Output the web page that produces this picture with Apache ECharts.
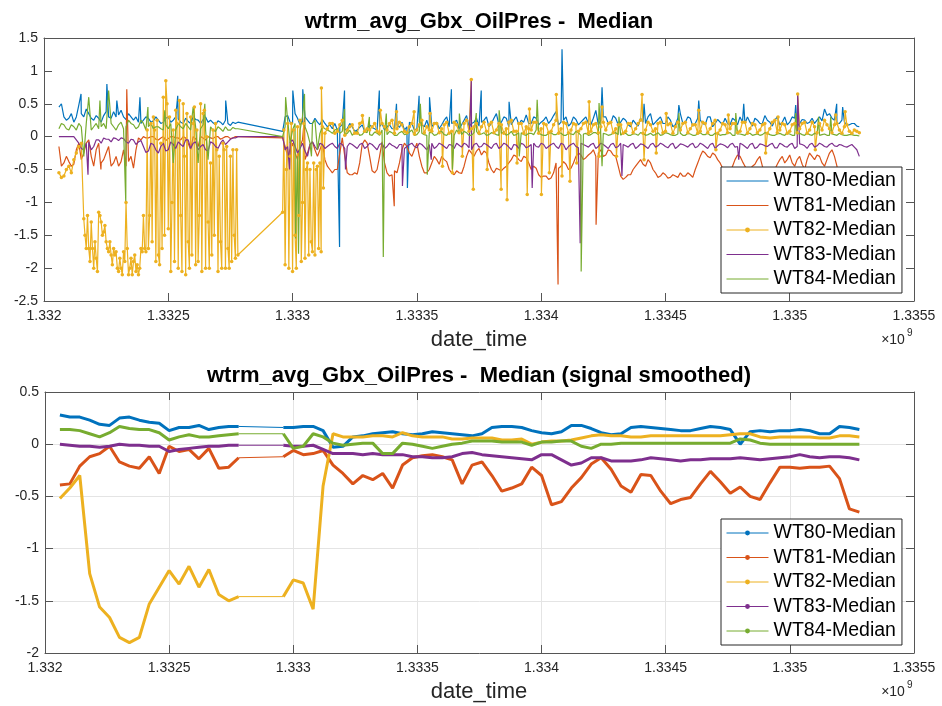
<!DOCTYPE html>
<html><head><meta charset="utf-8">
<script src="https://cdn.jsdelivr.net/npm/echarts/dist/echarts.min.js"></script>
<style>html,body{margin:0;padding:0;background:#fff}#c{width:942px;height:706px}</style>
</head><body><div id="c"></div><script>
const names = ['WT80-Median','WT81-Median','WT82-Median','WT83-Median','WT84-Median'];
const colors = ['#0072BD','#D95319','#EDB120','#7E2F8E','#77AC30'];
const titleTop = 'wtrm_avg_Gbx_OilPres -  Median';
const titleBottom = 'wtrm_avg_Gbx_OilPres -  Median (signal smoothed)';
const xLabel = 'date_time';

// ---- top panel (raw) ----
const rawTimeA = [1.33206,1.33208,1.3321,1.33212,1.33214,1.33216,1.33218,1.3322,1.33222,1.33224,
1.33226,1.33228,1.3323,1.33232,1.33234,1.33236,1.33238,1.3324,1.33242,1.33244,
1.33246,1.33248,1.3325,1.33252,1.33254,1.33256,1.33258,1.3326,1.33262,1.33264,
1.33266,1.33268,1.3327,1.33272,1.33274,1.33276,1.33278];
const rawTimeB = [1.33296,1.33298,1.333,1.33302,1.33304,1.33306,1.33308,1.3331,1.33312,1.33314,
1.33316,1.33318,1.3332,1.33322,1.33324,1.33326,1.33328,1.3333,1.33332,1.33334,
1.33336,1.33338,1.3334,1.33342,1.33344,1.33346,1.33348,1.3335,1.33352,1.33354,
1.33356,1.33358,1.3336,1.33362,1.33364,1.33366,1.33368,1.3337,1.33372,1.33374,
1.33376,1.33378,1.3338,1.33382,1.33384,1.33386,1.33388,1.3339,1.33392,1.33394,
1.33396,1.33398,1.334,1.33402,1.33404,1.33406,1.33408,1.3341,1.33412,1.33414,
1.33416,1.33418,1.3342,1.33422,1.33424,1.33426,1.33428,1.3343,1.33432,1.33434,
1.33436,1.33438,1.3344,1.33442,1.33444,1.33446,1.33448,1.3345,1.33452,1.33454,
1.33456,1.33458,1.3346,1.33462,1.33464,1.33466,1.33468,1.3347,1.33472,1.33474,
1.33476,1.33478,1.3348,1.33482,1.33484,1.33486,1.33488,1.3349,1.33492,1.33494,
1.33496,1.33498,1.335,1.33502,1.33504,1.33506,1.33508,1.3351,1.33512,1.33514,
1.33516,1.33518,1.3352,1.33522,1.33524,1.33526,1.33528];
const rawMidTimeA = [1.33207,1.33209,1.33211,1.33213,1.33215,1.33217,1.33219,1.33221,1.33223,1.33225,
1.33227,1.33229,1.33231,1.33233,1.33235,1.33237,1.33239,1.33241,1.33243,1.33245,
1.33247,1.33249,1.33251,1.33253,1.33255,1.33257,1.33259,1.33261,1.33263,1.33265,
1.33267,1.33269,1.33271,1.33273,1.33275,1.33277];
const rawMidTimeB = [1.33297,1.33299,1.33301,1.33303,1.33305,1.33307,1.33309,1.33311,1.33313,1.33315,
1.33317,1.33319,1.33321,1.33323,1.33325,1.33327,1.33329,1.33331,1.33333,1.33335,
1.33337,1.33339,1.33341,1.33343,1.33345,1.33347,1.33349,1.33351,1.33353,1.33355,
1.33357,1.33359,1.33361,1.33363,1.33365,1.33367,1.33369,1.33371,1.33373,1.33375,
1.33377,1.33379,1.33381,1.33383,1.33385,1.33387,1.33389,1.33391,1.33393,1.33395,
1.33397,1.33399,1.33401,1.33403,1.33405,1.33407,1.33409,1.33411,1.33413,1.33415,
1.33417,1.33419,1.33421,1.33423,1.33425,1.33427,1.33429,1.33431,1.33433,1.33435,
1.33437,1.33439,1.33441,1.33443,1.33445,1.33447,1.33449,1.33451,1.33453,1.33455,
1.33457,1.33459,1.33461,1.33463,1.33465,1.33467,1.33469,1.33471,1.33473,1.33475,
1.33477,1.33479,1.33481,1.33483,1.33485,1.33487,1.33489,1.33491,1.33493,1.33495,
1.33497,1.33499,1.33501,1.33503,1.33505,1.33507,1.33509,1.33511,1.33513,1.33515,
1.33517,1.33519,1.33521,1.33523,1.33525,1.33527];

const wt80RawA = [0.45,0.3,0.28,0.22,0.48,0.3,0.35,0.25,0.28,0.32,
0.3,0.38,0.33,0.3,0.35,0.25,0.22,0.25,0.28,0.24,
0.25,0.22,0.3,0.25,0.27,0.2,0.23,0.3,0.25,0.26,
0.22,0.21,0.24,0.18,0.2,0.22,0.22];
const wt80MidA = [0.5,0.25,0.35,0.3,0.35,0.42,0.28,0.32,0.22,0.38,
0.28,0.3,0.4,0.26,0.3,0.3,0.2,0.3,0.22,0.3,
0.2,0.28,0.22,0.3,0.22,0.28,0.2,0.26,0.2,0.3,
0.25,0.18,0.22,0.25,0.17,0.2];
const wt80RawB = [0.08,0.32,0.2,0.28,0.22,0.25,0.2,0.22,0.26,0.15,
0.12,0.1,0.18,0.12,0.15,0.1,0.18,0.12,0.14,0.1,
0.2,0.15,0.12,0.18,0.22,0.15,0.2,0.12,0.18,0.25,
0.15,0.22,0.18,0.3,0.2,0.25,0.18,0.32,0.2,0.28,
0.22,0.3,0.2,0.35,0.22,0.28,0.18,0.3,0.25,0.33,
0.2,0.28,0.22,0.3,0.25,0.38,0.22,0.3,0.2,0.26,
0.22,0.3,0.18,0.4,0.25,0.3,0.2,0.28,0.22,0.25,
0.15,0.2,0.28,0.2,0.35,0.22,0.3,0.2,0.25,0.18,
0.35,0.22,0.28,0.2,0.25,0.18,0.3,0.2,0.22,0.28,
0.18,0.25,0.3,0.2,0.22,0.28,0.2,0.32,0.22,0.25,
0.18,0.3,0.22,0.28,0.2,0.25,0.22,0.2,0.3,0.42,
0.35,0.25,0.2,0.22,0.18,0.2,0.15];
const wt80MidB = [0.3,0.22,0.35,0.18,0.3,0.2,0.28,0.18,0.2,0.18,
0.2,0.15,0.1,0.2,0.08,0.14,0.08,0.18,0.12,0.15,
0.1,0.18,0.12,0.14,0.1,0.22,0.1,0.22,0.15,0.12,
0.2,0.12,0.25,0.15,0.22,0.12,0.25,0.15,0.22,0.16,
0.25,0.15,0.28,0.18,0.3,0.15,0.25,0.18,0.22,0.2,
0.3,0.18,0.25,0.2,0.32,0.18,0.25,0.16,0.3,0.18,
0.26,0.2,0.28,0.18,0.3,0.2,0.32,0.18,0.28,0.18,
0.25,0.16,0.22,0.3,0.18,0.26,0.2,0.3,0.15,0.28,
0.2,0.3,0.16,0.28,0.2,0.3,0.15,0.26,0.18,0.2,
0.28,0.18,0.22,0.3,0.16,0.25,0.2,0.25,0.16,0.3,
0.22,0.18,0.3,0.16,0.26,0.2,0.28,0.25,0.24,0.32,
0.28,0.2,0.25,0.18,0.2,0.16];
const wt80SpikeT = [1.332149,1.332253,1.332293,1.332386,1.332538,1.332731,1.333001,1.333041,1.333189,1.333209,1.333349,1.333418,1.333462,1.333509,1.333551,1.333639,1.333759,1.333871,1.334084,1.334245,1.334414,1.334554,1.334634,1.334815,1.335024,1.335189,1.335213];
const wt80SpikeV = [0.65,0.8,0.55,0.6,0.62,0.55,0.7,0.72,-1.68,0.7,0.7,0.5,-0.78,0.62,0.6,0.72,0.7,0.53,1.33,0.75,0.5,0.48,0.55,0.5,0.48,0.5,0.45];

const wt81RawA = [-0.15,-0.4,-0.38,-0.42,-0.1,-0.25,-0.05,-0.45,-0.1,-0.35,
-0.15,-0.4,-0.45,-0.2,-0.38,-0.48,-0.02,0,-0.02,0,
-0.05,0,-0.03,0,-0.02,0,-0.1,0,-0.15,-0.02,
0,-0.03,0,-0.02,0,-0.02,0];
const wt81MidA = [-0.45,-0.3,-0.45,-0.2,-0.35,-0.1,-0.3,-0.2,-0.4,-0.25,
-0.45,-0.3,-0.38,-0.45,-0.3,-0.2,-0.05,-0.02,0,-0.04,
-0.02,-0.06,0,-0.02,-0.05,-0.02,-0.2,-0.03,0,-0.05,
-0.02,0,-0.04,0,-0.03,0];
const wt81RawB = [-0.02,-0.3,-0.1,-0.35,-0.05,-0.25,-0.08,-0.3,-0.1,-0.45,
-0.55,-0.5,-0.02,-0.55,-0.58,-0.57,-0.12,-0.1,-0.52,-0.5,
-0.08,-0.55,-0.58,-0.55,-0.2,-0.15,-0.3,-0.1,-0.45,-0.55,
-0.4,-0.35,-0.3,-0.38,-0.55,-0.52,-0.56,-0.3,-0.25,-0.22,
-0.28,-0.25,-0.5,-0.48,-0.52,-0.45,-0.35,-0.3,-0.38,-0.32,
-0.5,-0.48,-0.62,-0.6,-0.63,-0.4,-0.45,-0.42,-0.48,-0.3,
-0.28,-0.32,-0.25,-0.3,-0.2,-0.28,-0.22,-0.3,-0.6,-0.62,
-0.58,-0.45,-0.35,-0.45,-0.4,-0.55,-0.6,-0.58,-0.62,-0.6,
-0.55,-0.6,-0.58,-0.5,-0.3,-0.25,-0.32,-0.28,-0.4,-0.52,
-0.55,-0.35,-0.3,-0.45,-0.5,-0.42,-0.3,-0.55,-0.6,-0.5,
-0.35,-0.4,-0.28,-0.45,-0.3,-0.5,-0.25,-0.35,-0.3,-0.45,
-0.25,-0.3,-0.55,-0.6,-0.62,-0.65,-0.65];
const wt81MidB = [-0.15,-0.2,-0.25,-0.15,-0.35,-0.12,-0.2,-0.2,-0.35,-0.5,
-0.5,-0.25,-0.3,-0.58,-0.55,-0.4,-0.05,-0.3,-0.55,-0.3,
-0.4,-0.6,-0.52,-0.4,-0.1,-0.25,-0.2,-0.3,-0.55,-0.5,
-0.3,-0.42,-0.35,-0.5,-0.58,-0.55,-0.45,-0.2,-0.3,-0.18,
-0.22,-0.4,-0.55,-0.5,-0.48,-0.4,-0.28,-0.35,-0.3,-0.4,
-0.45,-0.58,-0.6,-0.65,-0.55,-0.48,-0.38,-0.5,-0.4,-0.25,
-0.35,-0.28,-0.2,-0.25,-0.3,-0.2,-0.28,-0.45,-0.65,-0.58,
-0.5,-0.4,-0.42,-0.35,-0.5,-0.62,-0.55,-0.63,-0.58,-0.62,
-0.6,-0.55,-0.62,-0.4,-0.22,-0.3,-0.25,-0.35,-0.48,-0.58,
-0.45,-0.28,-0.38,-0.52,-0.45,-0.35,-0.45,-0.58,-0.55,-0.42,
-0.3,-0.35,-0.4,-0.35,-0.42,-0.35,-0.3,-0.28,-0.4,-0.35,
-0.2,-0.45,-0.58,-0.6,-0.64,-0.62];
const wt81SpikeT = [1.332229,1.332333,1.333048,1.333409,1.334068,1.334221];
const wt81SpikeV = [-0.5,0.72,0.3,-1.06,-2.25,-1.34];

const wt82RawA = [-0.55,-0.6,-0.45,-0.35,-0.15,-1.25,-1.7,-2.0,-1.15,-1.45,
-1.75,-1.7,-2.05,-1.75,-2.1,-1.9,-2.1,-1.2,-1.7,0.3,
-1.8,0.6,-1.4,0.1,-2.0,0.5,-1.6,0.2,-1.9,0.35,
-1.3,0.1,-2.05,-0.1,-1.7,-0.2,-1.8];
const wt82MidA = [-0.62,-0.5,-0.55,-0.25,-0.1,-1.7,-1.3,-1.85,-1.3,-1.6,
-1.8,-1.75,-2.0,-1.0,-1.85,-2.05,-1.7,-1.75,0.2,-1.9,
-0.1,0.85,-2.05,0.4,-1.2,-2.1,0.3,-1.95,0.5,-2.0,
-0.4,0.2,-1.6,-2.0,-0.3,-1.85];
const wt82RawB = [-1.15,0.2,-2.05,0.15,-1.0,-0.4,-1.75,-0.45,0.15,0.12,
0.2,0.08,0.25,0.1,0.18,0.05,0.22,0.12,0.15,0.08,
0.2,0.1,0.25,0.12,0.18,0.06,0.2,0.1,0.25,0.15,
0.08,0.2,0.12,0.22,0.08,0.18,0.1,0.25,0.12,0.2,
0.15,0.08,0.22,0.1,0.18,0.12,0.25,0.08,0.2,0.15,
0.1,0.22,0.12,0.18,0.08,0.25,0.12,0.2,0.1,0.18,
0.12,0.22,0.08,0.2,0.15,0.1,0.22,0.12,0.18,0.08,
0.2,0.12,0.25,0.1,0.18,0.12,0.22,0.08,0.2,0.15,
0.1,0.22,0.12,0.18,0.08,0.2,0.12,0.25,0.1,0.18,
0.12,0.2,0.08,0.22,0.12,0.18,0.1,0.2,0.12,0.25,
0.1,0.18,0.08,0.2,0.12,0.22,0.1,0.15,0.2,0.25,
0.12,0.18,0.1,0.15,0.08,0.1,0.06];
const wt82MidB = [-1.95,-0.3,-1.5,0.25,-1.85,-0.5,-1.8,-0.4,0.05,0.2,
0.05,0.18,0.02,0.15,0.05,0.2,0.08,0.1,0.2,0.05,
0.15,0.2,0.05,0.22,0.08,0.15,0.04,0.18,0.06,0.1,
0.2,0.06,0.18,0.05,0.22,0.06,0.2,0.08,0.15,0.05,
0.22,0.18,0.06,0.2,0.05,0.22,0.08,0.2,0.05,0.12,
0.22,0.05,0.2,0.06,0.18,0.05,0.22,0.06,0.2,0.08,
0.2,0.05,0.18,0.06,0.22,0.2,0.06,0.18,0.05,0.2,
0.06,0.2,0.05,0.22,0.08,0.2,0.06,0.18,0.05,0.22,
0.2,0.06,0.18,0.05,0.22,0.06,0.2,0.05,0.2,0.06,
0.2,0.06,0.22,0.05,0.2,0.06,0.18,0.05,0.22,0.06,
0.2,0.05,0.18,0.06,0.2,0.05,0.22,0.06,0.1,0.18,
0.06,0.2,0.05,0.18,0.05,0.08];
const wt82FillT = [1.332165,1.332175,1.332185,1.332195,1.332205,1.332215,1.332225,1.332235,1.332245,1.332255,
1.332265,1.332275,1.332285,1.332295,1.332305,1.332315,1.332325,1.332335,1.332345,1.332355,
1.332365,1.332375,1.332385,1.332395,1.332405,
1.332415,1.332425,1.332435,1.332445,1.332455,1.332465,1.332475,1.332485,1.332495,1.332505,
1.332515,1.332525,1.332535,1.332545,1.332555,1.332565,1.332575,1.332585,1.332595,1.332605,
1.332615,1.332625,1.332635,1.332645,1.332655,1.332665,1.332675,1.332685,1.332695,1.332705,
1.332715,1.332725,1.332735,1.332745,1.332755,1.332765,1.332775,
1.332965,1.332975,1.332985,1.332995,1.333005,1.333015,1.333025,1.333035,1.333045,1.333055,
1.333065,1.333075,1.333085,1.333095,1.333105,1.333115];
const wt82FillV = [-1.5,-1.2,-1.9,-1.7,-1.6,-2.05,-1.2,-1.5,-1.35,-1.7,
-1.6,-1.95,-1.8,-2.0,-1.85,-2.1,-1.9,-1.7,-2.0,-2.1,
-1.8,-1.95,-2.0,-1.75,-1.7,
0.1,-1.2,-1.6,0.1,0.25,-1.95,-1.7,-1.5,0.5,0.3,
-1.0,-1.9,0.2,0.55,-2.05,-0.3,0.35,-2.0,-1.8,0.45,
0.1,-1.2,-2.05,0.4,0.0,-2.0,-1.8,-1.5,-0.2,-0.3,
-2.0,-0.2,-0.15,-2.0,-1.9,-1.5,-0.2,
0.1,-0.5,-2.0,0.2,0.1,-2.0,-1.2,-1.9,0.2,-0.5,
-1.8,-1.6,-0.4,-0.5,-1.7,-1.75];
const wt82SpikeT = [1.333116,1.333124,1.333281,1.333353,1.333418,1.333489,1.333553,1.333603,1.333643,1.333683,
1.333719,1.333727,1.333783,1.333839,1.333863,1.333903,1.333944,1.333953,1.334001,1.334033,
1.334061,1.334084,1.334116,1.334143,1.334193,1.334233,1.334245,1.334303,1.334406,1.334414,
1.334463,1.334503,1.334634,1.334703,1.334753,1.334903,1.334953,1.335032,1.335103,1.335185,1.335223];
const wt82SpikeV = [0.74,-0.78,0.32,0.4,0.38,0.38,0.35,-0.45,-0.55,-0.3,
0.87,-0.8,-0.5,-0.8,-0.96,-0.4,-0.88,0.42,-0.88,-0.55,
0.64,-0.6,-0.68,-0.4,0.53,-0.3,0.45,-0.3,0.64,-0.35,
-0.25,0.35,0.4,-0.2,0.33,-0.25,0.3,0.65,-0.2,0.33,0.38];

const wt83RawA = [0,0,0,0,-0.1,-0.2,-0.08,-0.15,-0.05,-0.02,
-0.04,-0.02,-0.06,-0.03,-0.1,-0.05,-0.08,-0.15,-0.22,-0.12,
-0.25,-0.1,-0.2,-0.12,-0.08,-0.15,-0.05,-0.1,-0.2,-0.12,
-0.22,-0.1,-0.18,-0.05,-0.08,-0.02,0];
const wt83MidA = [0,0,0,-0.05,-0.18,-0.1,-0.2,-0.05,-0.1,-0.04,
-0.08,-0.03,-0.02,-0.08,-0.04,-0.12,-0.06,-0.24,-0.1,-0.2,
-0.15,-0.22,-0.08,-0.18,-0.12,-0.05,-0.18,-0.08,-0.15,-0.2,
-0.08,-0.15,-0.1,-0.12,-0.04,-0.02];
const wt83RawB = [0,-0.15,-0.05,-0.25,-0.1,-0.3,-0.08,-0.2,-0.12,-0.15,
-0.1,-0.18,-0.12,-0.15,-0.12,-0.18,-0.1,-0.15,-0.12,-0.2,
-0.1,-0.15,-0.13,-0.18,-0.12,-0.15,-0.1,-0.17,-0.12,-0.2,
-0.1,-0.15,-0.12,-0.18,-0.13,-0.1,-0.16,-0.12,-0.2,-0.1,
-0.15,-0.12,-0.18,-0.1,-0.15,-0.12,-0.2,-0.13,-0.1,-0.17,
-0.12,-0.15,-0.1,-0.18,-0.12,-0.15,-0.1,-0.2,-0.12,-0.15,
-0.1,-0.14,-0.12,-0.18,-0.1,-0.15,-0.12,-0.17,-0.1,-0.14,
-0.12,-0.18,-0.11,-0.15,-0.12,-0.16,-0.1,-0.15,-0.12,-0.18,
-0.11,-0.14,-0.12,-0.17,-0.1,-0.15,-0.12,-0.18,-0.11,-0.14,
-0.12,-0.16,-0.1,-0.15,-0.12,-0.18,-0.11,-0.14,-0.12,-0.17,
-0.1,-0.15,-0.12,-0.18,-0.11,-0.14,-0.12,-0.16,-0.1,-0.15,
-0.12,-0.14,-0.12,-0.15,-0.14,-0.16,-0.3];
const wt83MidB = [-0.2,-0.08,-0.15,-0.18,-0.22,-0.12,-0.15,-0.1,-0.18,-0.12,
-0.15,-0.1,-0.18,-0.1,-0.15,-0.12,-0.18,-0.1,-0.16,-0.12,
-0.18,-0.1,-0.15,-0.12,-0.18,-0.12,-0.15,-0.1,-0.16,-0.12,
-0.18,-0.1,-0.15,-0.12,-0.18,-0.13,-0.1,-0.17,-0.12,-0.16,
-0.1,-0.15,-0.12,-0.18,-0.1,-0.16,-0.12,-0.18,-0.12,-0.15,
-0.1,-0.16,-0.12,-0.15,-0.1,-0.18,-0.12,-0.15,-0.1,-0.17,
-0.12,-0.16,-0.1,-0.15,-0.12,-0.18,-0.1,-0.15,-0.12,-0.16,
-0.1,-0.15,-0.12,-0.18,-0.1,-0.14,-0.12,-0.17,-0.1,-0.15,
-0.12,-0.16,-0.1,-0.15,-0.12,-0.18,-0.1,-0.14,-0.12,-0.17,
-0.1,-0.15,-0.12,-0.18,-0.1,-0.16,-0.12,-0.15,-0.1,-0.17,
-0.12,-0.16,-0.1,-0.15,-0.12,-0.18,-0.1,-0.14,-0.12,-0.16,
-0.1,-0.15,-0.13,-0.16,-0.12,-0.2];
const wt83SpikeT = [1.332177,1.332988,1.333213,1.333442,1.333558,1.333719,1.333964,1.334157,1.334325,1.334795,1.335032];
const wt83SpikeV = [-0.58,-0.5,-0.5,-0.75,-0.35,0.87,-0.78,-1.62,-0.6,-0.35,0.65];

const wt84RawA = [0.12,0.18,0.1,0.15,0.2,-0.3,0.6,0.15,0.12,0.2,
0.7,0.15,0.18,0.12,0.25,0.18,0.15,0.2,0.15,0.12,
0.15,0.1,0.12,-0.4,0.2,0.12,0.15,0.45,-0.4,0.18,
-0.35,0.1,0.15,0.08,0.1,0.14,0.12];
const wt84MidA = [0.2,0.12,0.18,0.1,0.15,0.2,0.1,0.2,0.15,0.12,
0.2,0.1,0.22,0.15,0.2,0.12,0.25,0.1,0.2,0.15,
0.12,0.18,0.2,0.1,0.15,0.2,0.1,0.15,0.12,0.1,
0.15,0.08,0.12,0.15,0.1,0.12];
const wt84RawB = [0.0,0.25,0.1,-0.3,0.3,0.05,0.2,-0.2,0.15,0.1,
0.05,0.12,0.08,0.05,0.02,0.08,0.03,0.06,0.02,0.05,
0.1,0.03,0.06,0.02,0.08,0.04,0.1,0.03,0.05,0.02,
0.06,0.03,0.08,0.02,0.05,0.1,0.03,0.06,0.02,0.08,
0.04,0.02,0.06,0.03,0.05,0.02,0.08,0.03,0.06,0.02,
0.05,0.1,0.03,0.02,0.06,0.03,0.05,0.02,0.04,0.08,
0.02,0.05,0.03,0.06,0.02,0.04,0.03,0.06,0.02,0.05,
0.02,0.04,0.06,0.02,0.05,0.03,0.02,0.06,0.03,0.02,
0.05,0.02,0.04,0.02,0.06,0.03,0.02,0.05,0.02,0.03,
0.06,0.02,0.04,0.02,0.05,0.03,0.02,0.06,0.03,0.02,
0.05,0.02,0.04,0.02,0.05,0.02,0.03,0.05,0.02,0.04,
0.02,0.03,0.05,0.02,0.03,0.02,0.01];
const wt84MidB = [0.15,-0.1,0.2,0.1,0.15,-0.1,0.25,0.05,0.12,0.08,
0.1,0.05,0.02,0.1,0.06,0.02,0.08,0.03,0.07,0.02,
0.05,0.08,0.02,0.06,0.03,0.07,0.02,0.08,0.03,0.06,
0.02,0.07,0.03,0.06,0.02,0.05,0.08,0.02,0.06,0.03,
0.06,0.03,0.05,0.02,0.07,0.04,0.02,0.06,0.03,0.05,
0.03,0.06,0.02,0.05,0.03,0.06,0.02,0.05,0.03,0.06,
0.04,0.02,0.06,0.03,0.05,0.02,0.05,0.03,0.06,0.02,
0.04,0.02,0.05,0.03,0.02,0.06,0.03,0.05,0.02,0.04,
0.02,0.05,0.02,0.04,0.03,0.05,0.02,0.04,0.03,0.05,
0.02,0.04,0.03,0.05,0.02,0.04,0.03,0.05,0.02,0.04,
0.03,0.05,0.02,0.04,0.03,0.05,0.02,0.04,0.03,0.02,
0.04,0.02,0.03,0.02,0.03,0.02];
const wt84SpikeT = [1.332225,1.332329,1.332418,1.332486,1.332647,1.332972,1.333012,1.333024,1.333048,1.333076,1.333209,1.333309,1.333365,1.333377,1.333514,1.333542,1.333643,1.333671,1.333739,1.333831,1.333912,1.333984,1.334161,1.334233,1.334245,1.334313,1.334554,1.334783,1.335024,1.335116,1.335165];
const wt84SpikeV = [0.55,-1.0,0.45,0.4,0.5,0.6,-1.55,-1.78,0.65,-0.3,0.42,0.3,-1.83,0.35,0.5,-0.58,-0.5,0.35,0.36,0.4,-0.3,0.56,-2.05,0.51,-0.45,0.3,0.36,0.36,0.36,0.3,0.3];

// ---- bottom panel (smoothed) ----
const smoothTimeA = [1.33206,1.3321,1.33214,1.33218,1.33222,1.33226,1.3323,1.33234,1.33238,1.33242,1.33246,1.3325,1.33254,1.33258,1.33262,1.33266,1.3327,1.33274,1.33278];
const smoothTimeB = [1.33296,1.333,1.33304,1.33308,1.33312,1.33316,1.3332,1.33324,1.33328,1.33332,
1.33336,1.3334,1.33344,1.33348,1.33352,1.33356,1.3336,1.33364,1.33368,1.33372,
1.33376,1.3338,1.33384,1.33388,1.33392,1.33396,1.334,1.33404,1.33408,1.33412,
1.33416,1.3342,1.33424,1.33428,1.33432,1.33436,1.3344,1.33444,1.33448,1.33452,
1.33456,1.3346,1.33464,1.33468,1.33472,1.33476,1.3348,1.33484,1.33488,1.33492,
1.33496,1.335,1.33504,1.33508,1.33512,1.33516,1.3352,1.33524,1.33528];
const wt80SmoothA = [0.28,0.26,0.26,0.23,0.19,0.18,0.25,0.26,0.23,0.21,0.2,0.13,0.16,0.16,0.18,0.14,0.16,0.17,0.17];
const wt80SmoothB = [0.16,0.16,0.17,0.17,0.13,-0.03,-0.02,0.07,0.08,0.1,0.11,0.12,0.1,0.09,0.1,0.12,0.11,0.1,0.09,0.08,
0.1,0.16,0.17,0.17,0.16,0.13,0.11,0.1,0.12,0.18,
0.18,0.15,0.11,0.09,0.1,0.16,0.17,0.16,0.15,0.14,
0.13,0.13,0.15,0.17,0.16,0.14,0.0,0.12,0.13,0.12,
0.13,0.13,0.14,0.13,0.1,0.1,0.17,0.16,0.14];
const wt81SmoothA = [-0.39,-0.38,-0.21,-0.12,-0.09,-0.02,-0.17,-0.21,-0.23,-0.12,-0.28,-0.02,-0.07,-0.05,-0.14,-0.04,-0.23,-0.22,-0.13];
const wt81SmoothB = [-0.12,-0.06,-0.1,-0.09,-0.06,-0.2,-0.28,-0.38,-0.3,-0.34,-0.28,-0.42,-0.2,-0.13,-0.11,-0.1,-0.12,-0.15,-0.38,-0.2,
-0.17,-0.3,-0.45,-0.42,-0.38,-0.22,-0.3,-0.58,-0.55,-0.42,
-0.32,-0.19,-0.13,-0.24,-0.4,-0.46,-0.29,-0.3,-0.45,-0.57,
-0.53,-0.51,-0.38,-0.26,-0.36,-0.47,-0.41,-0.5,-0.53,-0.37,
-0.22,-0.22,-0.23,-0.22,-0.22,-0.21,-0.33,-0.62,-0.65];
const wt82SmoothA = [-0.52,-0.42,-0.3,-1.24,-1.56,-1.66,-1.85,-1.9,-1.85,-1.53,-1.37,-1.21,-1.34,-1.17,-1.37,-1.2,-1.44,-1.5,-1.46];
const wt82SmoothB = [-1.46,-1.3,-1.33,-1.58,-0.4,0.1,0.07,0.07,0.07,0.08,0.08,0.07,0.11,0.08,0.07,0.07,0.07,0.05,0.05,0.06,
0.06,0.06,0.04,0.04,0.05,0.0,0.02,0.03,0.03,0.04,
0.06,0.08,0.09,0.08,0.08,0.07,0.07,0.08,0.08,0.08,
0.08,0.08,0.08,0.08,0.08,0.09,0.1,0.1,0.07,0.06,
0.07,0.07,0.07,0.07,0.06,0.06,0.08,0.08,0.07];
const wt83SmoothA = [0.0,-0.01,-0.02,-0.02,-0.03,-0.02,0.0,-0.01,-0.01,-0.02,-0.02,-0.07,-0.05,-0.04,-0.03,-0.02,-0.02,-0.01,-0.01];
const wt83SmoothB = [-0.01,-0.02,-0.02,-0.01,-0.05,-0.09,-0.09,-0.09,-0.1,-0.09,-0.1,-0.1,-0.1,-0.12,-0.12,-0.13,-0.13,-0.12,-0.09,-0.08,
-0.1,-0.11,-0.12,-0.13,-0.14,-0.15,-0.1,-0.1,-0.15,-0.2,
-0.18,-0.13,-0.13,-0.16,-0.16,-0.16,-0.15,-0.13,-0.14,-0.15,
-0.16,-0.15,-0.15,-0.14,-0.14,-0.14,-0.13,-0.14,-0.15,-0.14,
-0.13,-0.12,-0.1,-0.12,-0.13,-0.12,-0.12,-0.13,-0.15];
const wt84SmoothA = [0.14,0.14,0.13,0.1,0.07,0.11,0.17,0.15,0.14,0.14,0.11,0.04,0.07,0.09,0.07,0.07,0.08,0.09,0.1];
const wt84SmoothB = [0.1,-0.04,-0.02,0.1,0.07,0.01,-0.01,0.0,0.01,0.01,-0.09,-0.09,0.01,0.0,-0.02,-0.04,-0.02,0.0,0.01,0.03,
0.03,0.03,0.02,0.02,0.02,-0.01,0.02,0.02,0.03,0.03,
-0.02,-0.04,0.0,0.0,0.01,0.01,0.01,0.01,0.01,0.01,
0.01,0.01,0.01,0.01,0.01,0.01,0.05,0.04,0.01,0.0,
0.0,0.0,0.0,0.0,0.0,0.0,0.0,0.0,0.0];

// ---- build ----
const FONT = '"Liberation Sans", Arial, Helvetica, sans-serif';
const AX = '#262626';
const BOX = '#555555';
function pairs(ts, vs) { return ts.map((t, i) => [t, vs[i]]); }
const raw = [
  [wt80RawA, wt80MidA, wt80RawB, wt80MidB, wt80SpikeT, wt80SpikeV, [], []],
  [wt81RawA, wt81MidA, wt81RawB, wt81MidB, wt81SpikeT, wt81SpikeV, [], []],
  [wt82RawA, wt82MidA, wt82RawB, wt82MidB, wt82SpikeT, wt82SpikeV, wt82FillT, wt82FillV],
  [wt83RawA, wt83MidA, wt83RawB, wt83MidB, wt83SpikeT, wt83SpikeV, [], []],
  [wt84RawA, wt84MidA, wt84RawB, wt84MidB, wt84SpikeT, wt84SpikeV, [], []]
];
const smooth = [
  [wt80SmoothA, wt80SmoothB], [wt81SmoothA, wt81SmoothB], [wt82SmoothA, wt82SmoothB],
  [wt83SmoothA, wt83SmoothB], [wt84SmoothA, wt84SmoothB]
];
const bottomNames = names.map(n => n + ' ');
const series = [];
names.forEach((n, k) => {
  const [a, ma, b, mb, st, sv, ft, fv] = raw[k];
  const pts = pairs(rawTimeA, a).concat(pairs(rawMidTimeA, ma), pairs(rawTimeB, b), pairs(rawMidTimeB, mb), pairs(st, sv), pairs(ft, fv));
  pts.sort((p, q) => p[0] - q[0]);
  const marked = k === 2;
  series.push({
    type: 'line', name: n, xAxisIndex: 0, yAxisIndex: 0,
    data: pts,
    symbol: marked ? 'circle' : 'none', symbolSize: 3.5,
    showSymbol: marked, showAllSymbol: true,
    lineStyle: { width: 1.2, color: colors[k] },
    itemStyle: { color: colors[k] },
    animation: false, silent: true
  });
});
names.forEach((n, k) => {
  const [a, b] = smooth[k];
  const data = pairs(smoothTimeA, a);
  data.push([smoothTimeA[smoothTimeA.length - 1], '-']);
  pairs(smoothTimeB, b).forEach(p => data.push(p));
  series.push({
    type: 'line', name: bottomNames[k], xAxisIndex: 2, yAxisIndex: 2,
    data: data, connectNulls: false,
    symbol: 'circle', symbolSize: 3, showSymbol: false,
    lineStyle: { width: 3, color: colors[k] },
    itemStyle: { color: colors[k] },
    animation: false, silent: true
  });
  series.push({
    type: 'line', name: 'gap' + k, xAxisIndex: 2, yAxisIndex: 2,
    data: [[smoothTimeA[smoothTimeA.length - 1], a[a.length - 1]], [smoothTimeB[0], b[0]]],
    symbol: 'none', lineStyle: { width: 1, color: colors[k] },
    animation: false, silent: true
  });
});

const fmtX = v => String(+v.toFixed(4));
const fmtY = v => String(+v.toFixed(2));
function xAx(grid, pos, labels, split) {
  return {
    type: 'value', gridIndex: grid, position: pos, min: 1.332, max: 1.3355, interval: 0.0005,
    axisLine: { show: true, onZero: false, lineStyle: { color: BOX, width: 1 } },
    axisTick: { show: true, inside: true, length: 8, lineStyle: { color: BOX } },
    axisLabel: { show: labels, formatter: fmtX, color: AX, fontSize: 14, fontFamily: FONT, margin: 8 },
    splitLine: { show: split, lineStyle: { color: '#e4e4e4', width: 1 } }
  };
}
function yAx(grid, pos, labels, split, min, max) {
  return {
    type: 'value', gridIndex: grid, position: pos, min: min, max: max, interval: 0.5,
    axisLine: { show: true, onZero: false, lineStyle: { color: BOX, width: 1 } },
    axisTick: { show: true, inside: true, length: 8, lineStyle: { color: BOX } },
    axisLabel: { show: labels, formatter: fmtY, color: AX, fontSize: 14, fontFamily: FONT, margin: 6 },
    splitLine: { show: split, lineStyle: { color: '#e4e4e4', width: 1 } }
  };
}
function legendAt(top, data) {
  return {
    orient: 'vertical', left: 721, top: top, selectedMode: false,
    data: data, formatter: s => s.trim(),
    itemWidth: 42, itemHeight: 6, itemGap: 4.5,
    padding: [4, 6, 4, 5],
    backgroundColor: '#ffffff', borderColor: '#262626', borderWidth: 1,
    lineStyle: { width: 1 },
    textStyle: { fontSize: 19.5, color: '#000', fontFamily: FONT }
  };
}
const topLegendData = names.map((n, k) => k === 2 ? { name: n } : { name: n, itemStyle: { opacity: 0 } });
function txt(x, y, text, font, align, color) {
  return { type: 'text', x: x, y: y, silent: true, z: 100,
    style: { text: text, font: font, textAlign: align || 'center', textVerticalAlign: 'middle', fill: color || '#000' } };
}
const chart = echarts.init(document.getElementById('c'), null, { renderer: 'canvas' });
chart.setOption({
  animation: false,
  backgroundColor: '#ffffff',
  grid: [
    { left: 44, top: 38, width: 870, height: 263, containLabel: false },
    { left: 45, top: 392, width: 869, height: 261, containLabel: false }
  ],
  xAxis: [xAx(0, 'bottom', true, false), xAx(0, 'top', false, false), xAx(1, 'bottom', true, true), xAx(1, 'top', false, false)],
  yAxis: [yAx(0, 'left', true, false, -2.5, 1.5), yAx(0, 'right', false, false, -2.5, 1.5),
          yAx(1, 'left', true, true, -2, 0.5), yAx(1, 'right', false, false, -2, 0.5)],
  legend: [legendAt(167, topLegendData), legendAt(519, bottomNames)],
  series: series,
  graphic: [
    txt(479, 22, titleTop, 'bold 22px ' + FONT),
    txt(479, 376, titleBottom, 'bold 22px ' + FONT),
    txt(479, 340, xLabel, '22px ' + FONT, 'center', AX),
    txt(479, 692, xLabel, '22px ' + FONT, 'center', AX),
    txt(893, 340, '\u00d710', '14px ' + FONT, 'center', AX),
    txt(907, 333, '9', '10px ' + FONT, 'left', AX),
    txt(893, 692, '\u00d710', '14px ' + FONT, 'center', AX),
    txt(907, 685, '9', '10px ' + FONT, 'left', AX)
  ]
});
</script></body></html>
